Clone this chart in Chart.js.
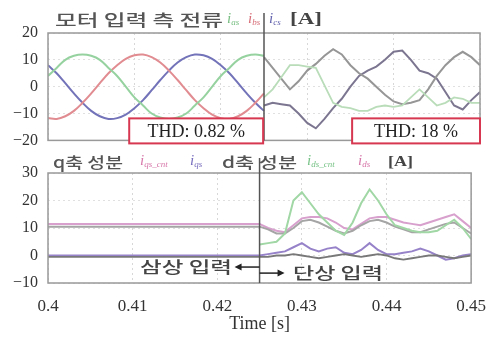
<!DOCTYPE html>
<html lang="ko">
<head>
<meta charset="UTF-8">
<title>모터 입력 측 전류</title>
<script src="https://cdn.jsdelivr.net/npm/chart.js"></script>
<style>
  html, body { margin: 0; padding: 0; background: #fff; }
  #wrap { position: relative; width: 499px; height: 345px; overflow: hidden; }
  #topChart { position: absolute; left: 0; top: 0; }
  #bottomChart { position: absolute; left: 0; top: 148px; }
</style>
</head>
<body>
<div id="wrap">
  <canvas id="topChart" width="499" height="160"></canvas>
  <canvas id="bottomChart" width="499" height="197"></canvas>
</div>
<script>
// time axis
const xTickLabels = ['0.4', '0.41', '0.42', '0.43', '0.44', '0.45'];
const switchTime = 0.425;

// top panel: three-phase input (0.400 - 0.425)
const timeLeft = [0.400, 0.401, 0.402, 0.403, 0.404, 0.405, 0.406, 0.407, 0.408, 0.409, 0.410, 0.411, 0.412,
                  0.413, 0.414, 0.415, 0.416, 0.417, 0.418, 0.419, 0.420, 0.421, 0.422, 0.423, 0.424, 0.425];
const iasLeft = [4, 7, 10, 11.5, 12, 11.5, 10, 7, 4, 0, -4, -7, -10, -11.5, -12, -11.5, -10, -7, -4, 0, 4, 7, 10, 11.5, 12, 11.5];
const ibsLeft = [-11.7, -12, -11, -9, -6, -2.5, 1.3, 5, 8, 10.4, 11.7, 12, 11, 9, 6, 2.5, -1.3, -5, -8, -10.4, -11.7, -12, -11, -9, -6, -2.5];
const icsLeft = [8, 5, 1.3, -2.5, -6, -9, -11, -12, -11.7, -10.4, -8, -5, -1.3, 2.5, 6, 9, 11, 12, 11.7, 10.4, 8, 5, 1.3, -2.5, -6, -9];

// top panel: single-phase input (0.425 - 0.450)
const timeRight = [0.425, 0.426, 0.427, 0.428, 0.429, 0.430, 0.431, 0.432, 0.433, 0.434, 0.435, 0.436, 0.437,
                   0.438, 0.439, 0.440, 0.441, 0.442, 0.443, 0.444, 0.445, 0.446, 0.447, 0.448, 0.449, 0.450];
const iasRight = [11, 7, 3, -1, 2, 6, 8.5, 11.5, 14, 12, 8, 5, 3, 0, -3, -5.5, -6.5, -6, -5, -1, 4, 8, 11, 13, 11, 8];
const ibsRight = [-4, -1, 3.5, 8, 8, 7.5, 7, 0.5, -6, -7.5, -8, -9, -9, -7.5, -7, -7.5, -7, -4, -1, -4, -7, -6, -4, -4.5, -6, -6];
const icsRight = [-7, -6, -6.5, -7, -10, -13.5, -15.5, -12, -8, -4.5, 0, 4, 6, 7.5, 10, 13, 13.5, 10, 6, 5, 3, -2, -7, -8.5, -5, -2];

// bottom panel: dq components (first point 0.400, then 0.425 - 0.450)
const timeBottom = [0.400].concat(timeRight);
const iqsCnt = [11.5, 11.5, 10, 9, 8.5, 11, 13.5, 14, 14, 13.5, 12, 10, 9.5, 11.5, 13.5, 14, 14, 13, 12, 11.5, 11, 12, 13, 14, 15, 12.5, 10];
const iqs = [10.5, 10.5, 9.5, 8, 8, 10, 12.5, 13, 12, 10.5, 9, 8, 9, 11, 12.5, 13, 12, 10.5, 9.5, 8.5, 8.5, 9.5, 10.5, 11.5, 12, 10, 8];
const idsCnt = [null, 4, 4.5, 5, 8, 20, 23, 19, 15, 12, 9, 7.5, 12, 19, 24, 20, 15, 11, 10, 9, 8.5, 8.5, 9, 11, 13, 10, 6];
const ids = [0, 0, 0.5, 1, 1.5, 3, 4.5, 2.5, 1.5, 2.5, 3, 1, 0.5, 2, 4.5, 2, 0.5, 0.5, 1, 1.5, 2.5, 1.5, 0, -1.5, -1, 0, 0.5];
const idsRef = [-0.5, -0.5, -0.5, 0, 0, 0.5, 0, -0.5, -1, -0.5, 0, 0.5, 0, -0.5, 0, 0.5, 0, -1, -1.5, -1, -0.5, 0, 0, -0.5, -1, -0.5, 0];

const pts = (xs, ys) => xs.map((x, i) => ({x: x, y: ys[i]}));

const KR = '"Noto Sans CJK KR", sans-serif';
const SERIF = '"Liberation Serif", "DejaVu Serif", serif';

function stretchText(ctx, text, x, y, font, color, width) {
    ctx.save();
    ctx.font = font;
    ctx.fillStyle = color;
    ctx.textBaseline = 'middle';
    ctx.textAlign = 'left';
    const w = ctx.measureText(text).width;
    const sx = width ? width / w : 1;
    ctx.translate(x, y);
    ctx.scale(sx, 1);
    ctx.fillText(text, 0, 0);
    ctx.restore();
    return x + w * sx;
}

function subLabel(ctx, x, y, sub, color) {
    ctx.save();
    ctx.fillStyle = color;
    ctx.textBaseline = 'middle';
    ctx.textAlign = 'left';
    ctx.font = 'italic 15px ' + SERIF;
    ctx.fillText('i', x, y);
    const w = ctx.measureText('i').width;
    ctx.font = 'italic 9px ' + SERIF;
    ctx.fillText(sub, x + w, y + 4);
    ctx.restore();
}

function arrow(ctx, x0, x1, y) {
    const dir = x1 > x0 ? 1 : -1;
    ctx.save();
    ctx.strokeStyle = '#222';
    ctx.fillStyle = '#222';
    ctx.lineWidth = 1.5;
    ctx.beginPath();
    ctx.moveTo(x0, y);
    ctx.lineTo(x1 - dir * 5, y);
    ctx.stroke();
    ctx.beginPath();
    ctx.moveTo(x1, y);
    ctx.lineTo(x1 - dir * 7, y - 3.5);
    ctx.lineTo(x1 - dir * 7, y + 3.5);
    ctx.closePath();
    ctx.fill();
    ctx.restore();
}

function frameAndDivider(chart, above) {
    const {ctx, chartArea: a, scales} = chart;
    ctx.save();
    ctx.strokeStyle = '#999';
    ctx.lineWidth = 1.5;
    ctx.strokeRect(a.left, a.top, a.right - a.left, a.bottom - a.top);
    const xd = scales.x.getPixelForValue(switchTime);
    ctx.strokeStyle = '#555';
    ctx.beginPath();
    ctx.moveTo(xd, a.top - above);
    ctx.lineTo(xd, a.bottom);
    ctx.stroke();
    ctx.restore();
    return xd;
}

function xScale(showTicks) {
    return {
        type: 'linear', min: 0.4, max: 0.45,
        ticks: {
            display: showTicks, stepSize: 0.01, padding: 13, maxRotation: 0,
            color: '#333', font: {family: SERIF, size: 17},
            callback: (v, i) => xTickLabels[i]
        },
        grid: {color: '#d8d8d8', drawTicks: false},
        border: {display: false, dash: [2, 3]},
        title: showTicks ? {display: true, text: 'Time [s]', color: '#333',
                            font: {family: SERIF, size: 18}, padding: {top: 0, bottom: 10}} : {display: false},
        afterFit: s => { s.height = showTicks ? 62 : 0; }
    };
}

function yScale(min, max) {
    return {
        min: min, max: max,
        ticks: {
            stepSize: 10, padding: 10, color: '#333', font: {family: SERIF, size: 16},
            callback: v => String(v).replace('-', '\u2212')
        },
        grid: {color: '#e0e0e0', drawTicks: false},
        border: {display: false, dash: [2, 3]},
        afterFit: s => { s.width = 48; }
    };
}

function line(data, color, width, tension) {
    return {data: data, borderColor: color, borderWidth: width, pointRadius: 0, tension: tension, fill: false};
}

// top chart
new Chart(document.getElementById('topChart'), {
    type: 'line',
    data: {
        datasets: [
            line(pts(timeLeft, iasLeft), 'rgb(150,210,160)', 2, 0.4),
            line(pts(timeLeft, ibsLeft), 'rgb(225,140,145)', 2, 0.4),
            line(pts(timeLeft, icsLeft), 'rgb(115,115,185)', 2, 0.4),
            line(pts(timeRight, ibsRight), 'rgb(185,220,185)', 1.8, 0),
            line(pts(timeRight, iasRight), 'rgb(150,150,150)', 2, 0),
            line(pts(timeRight, icsRight), 'rgb(125,118,145)', 2, 0)
        ]
    },
    options: {
        responsive: false,
        animation: false,
        layout: {padding: {left: 0, right: 19, top: 33, bottom: 15}},
        scales: {x: xScale(false), y: yScale(-20, 20)},
        plugins: {legend: {display: false}, tooltip: {enabled: false}}
    },
    plugins: [{
        id: 'topDeco',
        afterDraw(chart) {
            const {ctx, chartArea: a, scales} = chart;
            frameAndDivider(chart, 20);
            // title
            stretchText(ctx, '모터 입력 측 전류', 55, 20, '500 16px ' + KR, '#555', 168);
            subLabel(ctx, 227, 19, 'as', 'rgb(120,190,130)');
            subLabel(ctx, 248, 19, 'bs', 'rgb(215,110,120)');
            subLabel(ctx, 269, 19, 'cs', 'rgb(100,100,175)');
            stretchText(ctx, '[A]', 290, 20, 'bold 17px ' + SERIF, '#444', 32);
            // THD boxes
            const boxes = [[0.4094, 0.4249, 'THD: 0.82 %'], [0.4352, 0.45, 'THD: 18 %']];
            const yTop = scales.y.getPixelForValue(-11.8);
            const yBot = a.bottom + 3;
            boxes.forEach(b => {
                const x0 = scales.x.getPixelForValue(b[0]);
                const x1 = scales.x.getPixelForValue(b[1]);
                ctx.save();
                ctx.fillStyle = '#fff';
                ctx.fillRect(x0, yTop, x1 - x0, yBot - yTop);
                ctx.strokeStyle = 'rgb(215,55,80)';
                ctx.lineWidth = 2;
                ctx.strokeRect(x0, yTop, x1 - x0, yBot - yTop);
                ctx.font = '18px ' + SERIF;
                ctx.fillStyle = '#222';
                ctx.textAlign = 'center';
                ctx.textBaseline = 'middle';
                ctx.fillText(b[2], (x0 + x1) / 2, (yTop + yBot) / 2 + 1);
                ctx.restore();
            });
        }
    }]
});

// bottom chart
new Chart(document.getElementById('bottomChart'), {
    type: 'line',
    data: {
        datasets: [
            line(pts(timeBottom, idsCnt), 'rgb(160,215,165)', 2, 0),
            line(pts(timeBottom, iqs), 'rgb(165,165,165)', 2, 0),
            line(pts(timeBottom, iqsCnt), 'rgb(215,160,205)', 2, 0),
            line(pts(timeBottom, idsRef), 'rgb(120,120,120)', 1.8, 0),
            line(pts(timeBottom, ids), 'rgb(150,130,200)', 2, 0)
        ]
    },
    options: {
        responsive: false,
        animation: false,
        layout: {padding: {left: 0, right: 19, top: 25, bottom: 0}},
        scales: {x: xScale(true), y: yScale(-10, 30)},
        plugins: {legend: {display: false}, tooltip: {enabled: false}}
    },
    plugins: [{
        id: 'bottomDeco',
        afterDraw(chart) {
            const {ctx, scales} = chart;
            const xd = frameAndDivider(chart, 15);
            // title
            stretchText(ctx, 'q축 성분', 53, 14, '500 15px ' + KR, '#555', 70);
            subLabel(ctx, 140, 13, 'qs_cnt', 'rgb(215,120,170)');
            subLabel(ctx, 190, 13, 'qs', 'rgb(120,110,190)');
            stretchText(ctx, 'd축 성분', 222, 14, '500 15px ' + KR, '#555', 75);
            subLabel(ctx, 307, 13, 'ds_cnt', 'rgb(120,195,135)');
            subLabel(ctx, 358, 13, 'ds', 'rgb(215,120,170)');
            stretchText(ctx, '[A]', 388, 14, 'bold 15px ' + SERIF, '#444', 25);
            // arrows
            const yL = scales.y.getPixelForValue(-4.2);
            const yR = scales.y.getPixelForValue(-6.4);
            stretchText(ctx, '삼상 입력', 140, yL, '500 16px ' + KR, '#444', 92);
            arrow(ctx, xd, xd - 25, yL);
            arrow(ctx, xd, xd + 25, yR);
            stretchText(ctx, '단상 입력', 293, yR, '500 16px ' + KR, '#444', 90);
        }
    }]
});
</script>
</body>
</html>
